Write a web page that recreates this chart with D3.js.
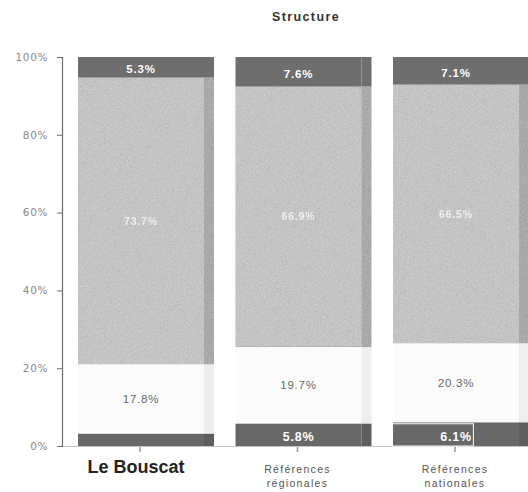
<!DOCTYPE html>
<html>
<head>
<meta charset="utf-8">
<script src="https://cdn.jsdelivr.net/npm/d3@7/dist/d3.min.js"></script>
<style>
  html, body { margin: 0; padding: 0; background: #ffffff; }
  svg { display: block; }
</style>
</head>
<body>
<div id="chart"></div>
<script>
// Stacked 100% structure bars, bottom to top
const categories = ["Le Bouscat", "Références régionales", "Références nationales"];
const categoryLines = [["Le Bouscat"], ["Références", "régionales"], ["Références", "nationales"]];
const bottomShare = [3.2, 5.8, 6.1];
const whiteShare = [17.8, 19.7, 20.3];
const grayShare = [73.7, 66.9, 66.5];
const topShare = [5.3, 7.6, 7.1];
const yTicks = [0, 20, 40, 60, 80, 100];
const highlighted = "Le Bouscat";

const W = 528, H = 492;
const svg = d3.select("#chart").append("svg").attr("width", W).attr("height", H);

// grain texture for the shaded segments
const defs = svg.append("defs");
const grain = defs.append("filter").attr("id", "grain")
  .attr("x", 0).attr("y", 0).attr("width", 1).attr("height", 1)
  .attr("color-interpolation-filters", "sRGB");
grain.append("feTurbulence").attr("type", "fractalNoise").attr("baseFrequency", 1.3)
  .attr("numOctaves", 1).attr("seed", 5).attr("result", "noise");
grain.append("feColorMatrix").attr("in", "noise").attr("type", "matrix")
  .attr("values", "0.33 0.33 0.33 0 0  0.33 0.33 0.33 0 0  0.33 0.33 0.33 0 0  0 0 0 0 1")
  .attr("result", "gnoise");
grain.append("feComposite").attr("in", "SourceGraphic").attr("in2", "gnoise")
  .attr("operator", "arithmetic").attr("k1", 0).attr("k2", 1).attr("k3", 0.3).attr("k4", -0.12)
  .attr("result", "mix");
grain.append("feComposite").attr("in", "mix").attr("in2", "SourceGraphic").attr("operator", "in");

const y = d3.scaleLinear().domain([0, 100]).range([446, 57]);
const x = d3.scaleBand().domain(categories).range([62, 545])
  .paddingInner(0.1365).paddingOuter(0.1016);
const depth = 10;              // width of the shaded side strip
const bw = x.bandwidth();
const faceW = bw - depth;

// title
svg.append("text").attr("x", 306).attr("y", 21).attr("text-anchor", "middle")
  .attr("font-family", "Liberation Sans, Arial, sans-serif").attr("font-size", 12.5)
  .attr("font-weight", "bold").attr("letter-spacing", 1.4).attr("fill", "#333333")
  .text("Structure");

// baseline
svg.append("line").attr("x1", 62).attr("x2", W).attr("y1", y(0) + 0.5).attr("y2", y(0) + 0.5)
  .attr("stroke", "#c4c4c4").attr("stroke-width", 1.2);

// rows of stacked segments
const rows = categories.map((c, i) => {
  const segs = [
    { key: "bottom", v: bottomShare[i], face: "#686868", side: "#5e5e5e", grain: false, label: "#ffffff", bold: true, size: 12.5 },
    { key: "white", v: whiteShare[i], face: "#fbfbfb", side: "#eeeeee", grain: false, label: "#6a6a6a", bold: false, size: 11.5 },
    { key: "gray", v: grayShare[i], face: "#bcbcbc", side: "#a2a2a2", grain: true, label: "#f4f4f4", bold: true, size: 10.5 },
    { key: "top", v: topShare[i], face: "#6e6e6e", side: "#6e6e6e", grain: false, label: "#ffffff", bold: true, size: 11.5 }
  ];
  let acc = 0;
  segs.forEach(s => { s.y0 = acc; acc += s.v; s.y1 = acc; s.cat = c; });
  return segs;
});

const bars = svg.append("g");
rows.forEach(segs => {
  const g = bars.append("g");
  const x0 = x(segs[0].cat);
  segs.forEach(s => {
    const top = y(s.y1), bot = y(s.y0);
    g.append("rect").attr("x", x0).attr("y", top).attr("width", faceW).attr("height", bot - top)
      .attr("fill", s.face).attr("filter", s.grain ? "url(#grain)" : null);
    g.append("rect").attr("x", x0 + faceW).attr("y", top).attr("width", depth).attr("height", bot - top)
      .attr("fill", s.side).attr("filter", s.grain ? "url(#grain)" : null);
  });
});

// value labels
const labels = svg.append("g").attr("font-family", "Liberation Sans, Arial, sans-serif");
rows.forEach(segs => {
  const cx = x(segs[0].cat) + faceW / 2;
  segs.forEach(s => {
    const hpx = y(s.y0) - y(s.y1);
    if (hpx < 16) return;
    const t = labels.append("text")
      .attr("x", cx)
      .attr("y", y((s.y0 + s.y1) / 2) + s.size * 0.36 + (s.key === "top" || s.key === "bottom" ? 2 : 0))
      .attr("text-anchor", "middle")
      .attr("font-size", s.size)
      .attr("font-weight", s.bold ? "bold" : "normal")
      .attr("letter-spacing", 0.8)
      .attr("fill", s.label)
      .attr("opacity", s.key === "gray" ? 0.9 : 1)
      .text(s.v.toFixed(1) + "%");
    if (s.cat === "Références nationales" && s.key === "bottom") {
      const bb = t.node().getBBox();
      labels.append("rect").attr("x", x(s.cat) - 0.5).attr("y", y(s.y1) + 1.5)
        .attr("width", bb.x + bb.width + 2 - x(s.cat)).attr("height", y(s.y0) - y(s.y1) - 1.5)
        .attr("fill", "none").attr("stroke", "#ffffff").attr("stroke-width", 1);
    }
  });
});

// y axis
const yAxis = svg.append("g").attr("transform", "translate(62,0)")
  .call(d3.axisLeft(y).tickValues(yTicks).tickSize(5).tickPadding(9).tickFormat(d => d + "%"));
yAxis.select(".domain").attr("stroke", "#6a6a6a").attr("stroke-width", 1.2);
yAxis.selectAll(".tick line").attr("stroke", "#6a6a6a");
yAxis.selectAll(".tick text").attr("font-family", "DejaVu Sans, sans-serif").attr("font-size", 10.5)
  .attr("fill", "#8a8a8a").attr("letter-spacing", 0.6);

// category ticks and labels
const xg = svg.append("g");
categories.forEach((c, i) => {
  const cx = x(c) + faceW / 2 - 1;
  xg.append("line").attr("x1", cx).attr("x2", cx).attr("y1", y(0) + 1).attr("y2", y(0) + 6)
    .attr("stroke", "#9a9a9a").attr("stroke-width", 1.5);
  const big = c === highlighted;
  const t = xg.append("text").attr("x", cx - (big ? 4 : 0)).attr("y", 473).attr("text-anchor", "middle")
    .attr("font-family", "Liberation Sans, Arial, sans-serif")
    .attr("font-size", big ? 18 : 10.5)
    .attr("font-weight", big ? "bold" : "normal")
    .attr("letter-spacing", big ? 0 : 1.3)
    .attr("fill", big ? "#222222" : "#555555");
  categoryLines[i].forEach((line, k) => {
    t.append("tspan").attr("x", cx - (big ? 4 : 0)).attr("dy", k === 0 ? 0 : 14).text(line);
  });
});
</script>
</body>
</html>
